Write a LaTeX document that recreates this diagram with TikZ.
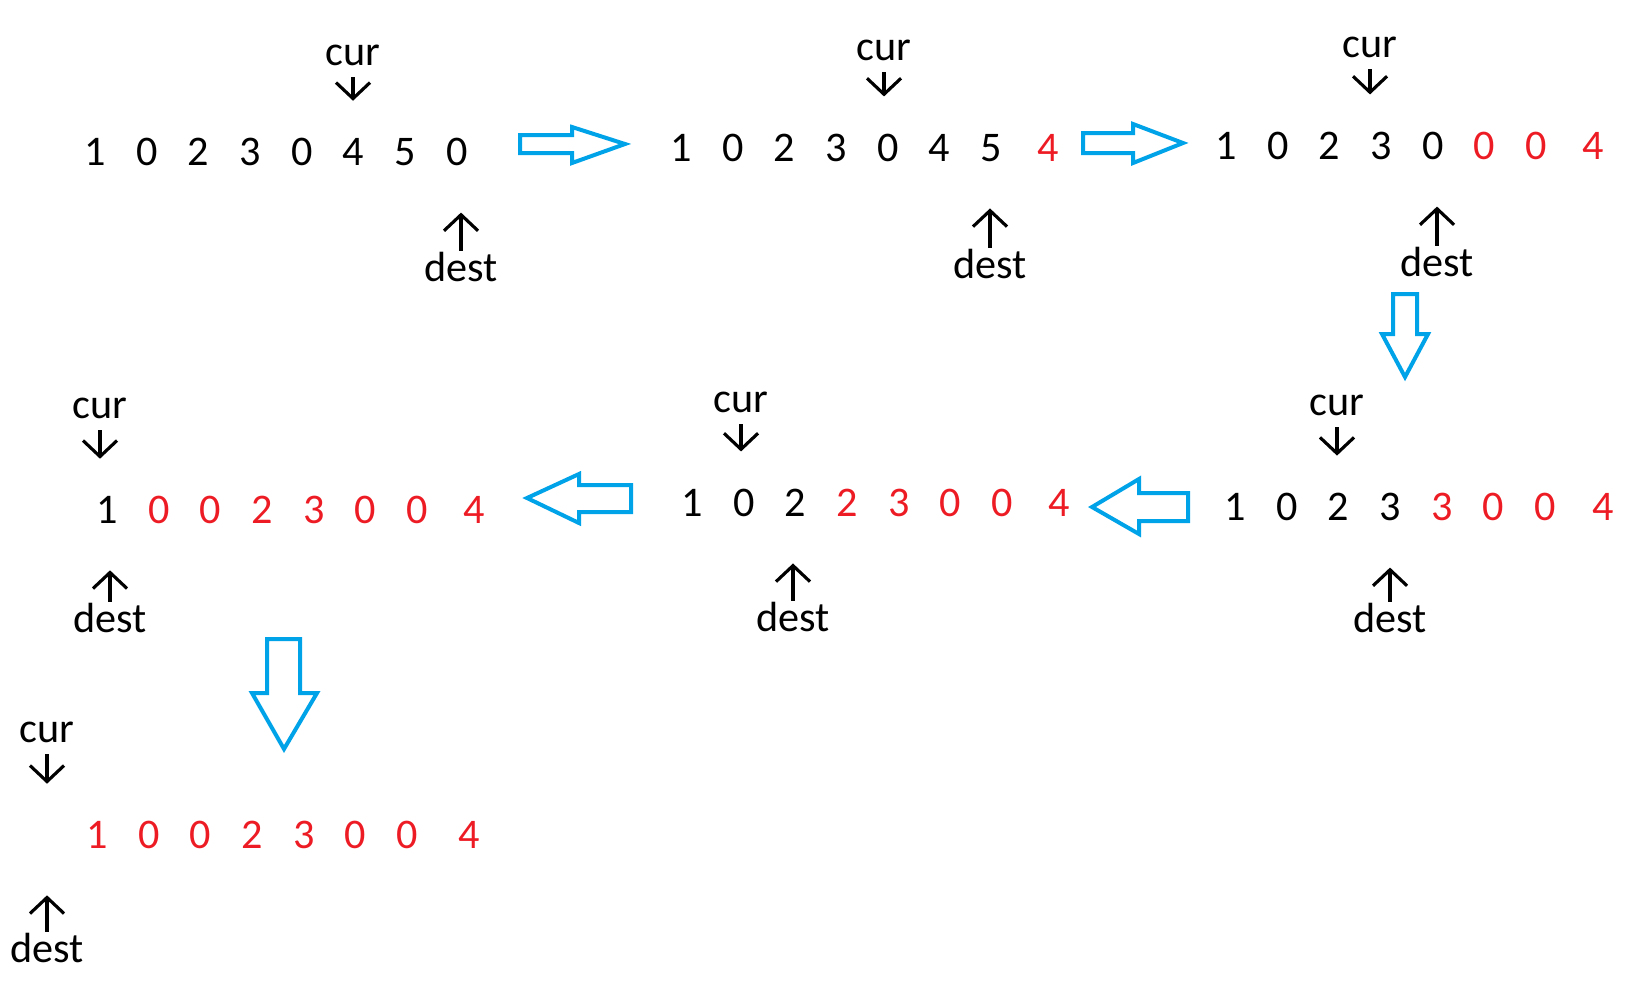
\documentclass[tikz,border=0pt]{standalone}
\usepackage{fontspec}
\setmainfont{Carlito}
\usetikzlibrary{arrows.meta}

\definecolor{mred}{RGB}{237,28,36}
\definecolor{mblue}{RGB}{0,162,232}

\tikzset{
  cell/.style={anchor=center,inner sep=0pt,font=\fontsize{12}{14}\selectfont},
  tag/.style={anchor=center,inner sep=0pt,font=\fontsize{12}{14}\selectfont},
  ptr/.style={line width=0.9pt,-{Straight Barb[length=0.16cm,width=0.34cm]}},
  curptr/.style={ptr,shorten <=0.11cm,shorten >=0.37cm},
  destptr/.style={ptr,shorten <=0.01cm,shorten >=0.46cm},
  fat/.style={draw=mblue,line width=0.04cm,line join=miter}
}

% #1 name, #2 x, #3 y, #4 extra gap before the last cell, #5 black cells, #6 digits
\newcommand{\digitrow}[6]{
  \foreach \v [count=\i] in {#6} {
    \pgfmathsetmacro{\xx}{#2+51.7*(\i-1)+(\i==8)*#4}
    \ifnum\i>#5\relax\def\col{mred}\else\def\col{black}\fi
    \node [cell,text=\col] (#1-\i) at (\xx,#3) {\v};
  }
}

\begin{document}
\begin{tikzpicture}[x=0.01cm,y=-0.01cm]
  \useasboundingbox (0,0) rectangle (1625,999);

  \digitrow{r1}{95}{152}{0}{8}{1,0,2,3,0,4,5,0}
  \digitrow{r2}{681}{148}{5}{7}{1,0,2,3,0,4,5,4}
  \digitrow{r3}{1226}{146}{5}{5}{1,0,2,3,0,0,0,4}
  \digitrow{r4}{1235}{507}{6}{4}{1,0,2,3,3,0,0,4}
  \digitrow{r5}{692}{503}{5}{3}{1,0,2,2,3,0,0,4}
  \digitrow{r6}{107}{510}{5}{1}{1,0,0,2,3,0,0,4}
  \digitrow{r7}{97}{835}{10}{0}{1,0,0,2,3,0,0,4}

  \node [tag] (cur1) at (353,55) {cur};
  \node [tag] (dest1) at (461,267) {dest};
  \node [tag] (cur2) at (884,50) {cur};
  \node [tag] (dest2) at (990,264) {dest};
  \node [tag] (cur3) at (1370,47) {cur};
  \node [tag] (dest3) at (1437,262) {dest};
  \node [tag] (cur4) at (1337,405) {cur};
  \node [tag] (dest4) at (1390,618) {dest};
  \node [tag] (cur5) at (741,402) {cur};
  \node [tag] (dest5) at (793,617) {dest};
  \node [tag] (cur6) at (100,408) {cur};
  \node [tag] (dest6) at (110,618) {dest};
  \node [tag] (cur7) at (47,732) {cur};
  \node [tag] (dest7) at (47,948) {dest};

  \draw [curptr] (cur1) -- (cur1 |- r1-6.north);
  \draw [destptr] (dest1) -- (dest1 |- r1-8.south);
  \draw [curptr] (cur2) -- (cur2 |- r2-5.north);
  \draw [destptr] (dest2) -- (dest2 |- r2-7.south);
  \draw [curptr] (cur3) -- (cur3 |- r3-4.north);
  \draw [destptr] (dest3) -- (dest3 |- r3-5.south);
  \draw [curptr] (cur4) -- (cur4 |- r4-3.north);
  \draw [destptr] (dest4) -- (dest4 |- r4-4.south);
  \draw [curptr] (cur5) -- (cur5 |- r5-2.north);
  \draw [destptr] (dest5) -- (dest5 |- r5-3.south);
  \draw [curptr] (cur6) -- (cur6 |- r6-1.north);
  \draw [destptr] (dest6) -- (dest6 |- r6-1.south);
  \draw [curptr] (cur7) -- (cur7 |- r7-1.north);
  \draw [destptr] (dest7) -- (dest7 |- r7-1.south);

  % step arrows
  \draw [fat] (520,135) -- (572,135) -- (572,127) -- (625,144) -- (572,163) -- (572,153) -- (520,153) -- cycle;
  \draw [fat] (1083,133) -- (1133,133) -- (1133,124) -- (1183,143) -- (1133,163) -- (1133,153) -- (1083,153) -- cycle;
  \draw [fat] (1393,294) -- (1417,294) -- (1417,334) -- (1428,334) -- (1405,377) -- (1382,334) -- (1393,334) -- cycle;
  \draw [fat] (1188,493) -- (1139,493) -- (1139,479) -- (1092,507) -- (1139,534) -- (1139,521) -- (1188,521) -- cycle;
  \draw [fat] (631,485) -- (579,485) -- (579,474) -- (527,498) -- (579,523) -- (579,512) -- (631,512) -- cycle;
  \draw [fat] (267,639) -- (300,639) -- (300,693) -- (317,693) -- (284,749) -- (252,693) -- (267,693) -- cycle;
\end{tikzpicture}
\end{document}
